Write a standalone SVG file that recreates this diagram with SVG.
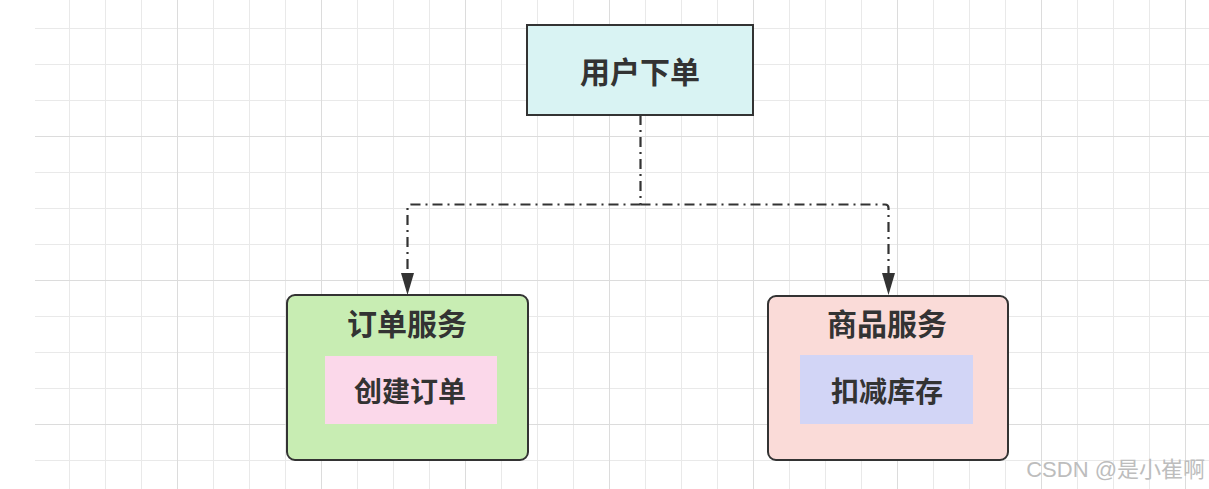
<svg xmlns="http://www.w3.org/2000/svg" width="1209" height="489" viewBox="0 0 1209 489">
  <style>
    .box { stroke: #333333; stroke-width: 2; }
    .title { font-family: "Noto Sans CJK SC", "Noto Sans", sans-serif; font-weight: bold; fill: #333333; text-anchor: middle; dominant-baseline: central; }
    .big { font-size: 30px; }
    .small { font-size: 28px; }
    .conn { fill: none; stroke: #333333; stroke-width: 2.2; stroke-dasharray: 10 5 2 5; }
    .wm { font-family: "Liberation Sans", "Noto Sans CJK SC", sans-serif; font-size: 22px; fill: #bdbdbd; text-anchor: end; }
  </style>
  <defs>
    <pattern id="grid" patternUnits="userSpaceOnUse" x="33" y="-8" width="144" height="144">
      <rect x="0" y="0" width="144" height="144" fill="#ffffff"/>
      <rect x="36" y="0" width="1" height="144" fill="#e9e9e9"/>
      <rect x="72" y="0" width="1" height="144" fill="#e9e9e9"/>
      <rect x="108" y="0" width="1" height="144" fill="#e9e9e9"/>
      <rect x="0" y="36" width="144" height="1" fill="#e9e9e9"/>
      <rect x="0" y="72" width="144" height="1" fill="#e9e9e9"/>
      <rect x="0" y="108" width="144" height="1" fill="#e9e9e9"/>
      <rect x="0" y="0" width="1" height="144" fill="#dcdcdc"/>
      <rect x="0" y="0" width="144" height="1" fill="#dcdcdc"/>
    </pattern>
    <marker id="arrow" markerUnits="userSpaceOnUse" viewBox="0 -8 23 16" markerWidth="23" markerHeight="16" refX="0" refY="0" orient="auto" overflow="visible">
      <path d="M0,-6.5 L22,0 L0,6.5 z" fill="#333333"/>
    </marker>
  </defs>

  <rect x="0" y="0" width="1209" height="489" fill="#ffffff"/>
  <rect x="35" y="0" width="1174" height="489" fill="url(#grid)"/>

  <g id="connectors">
    <path class="conn" d="M640.5 115 V204.5"/>
    <path class="conn" d="M640.5 204.5 H411 Q407.5 204.5 407.5 208 V273" marker-end="url(#arrow)"/>
    <path class="conn" d="M640.5 204.5 H885 Q888.5 204.5 888.5 208 V273" marker-end="url(#arrow)"/>
  </g>

  <g id="node-user-order">
    <rect class="box" x="527" y="25" width="226" height="90" fill="#d9f3f3"/>
    <text class="title big" x="640" y="70">用户下单</text>
  </g>

  <g id="node-order-service">
    <rect class="box" x="287" y="295" width="241" height="165" rx="8" ry="8" fill="#c8edb3"/>
    <text class="title big" x="407" y="322">订单服务</text>
    <g id="node-create-order">
      <rect x="325" y="356" width="172" height="68" fill="#fbd8ea"/>
      <text class="title small" x="410" y="390">创建订单</text>
    </g>
  </g>

  <g id="node-product-service">
    <rect class="box" x="768" y="296" width="240" height="164" rx="8" ry="8" fill="#fadbd8"/>
    <text class="title big" x="887" y="322">商品服务</text>
    <g id="node-reduce-stock">
      <rect x="800" y="355" width="173" height="69" fill="#d2d5f6"/>
      <text class="title small" x="887" y="390">扣减库存</text>
    </g>
  </g>

  <text class="wm" x="1205" y="477">CSDN @是小崔啊</text>
</svg>
